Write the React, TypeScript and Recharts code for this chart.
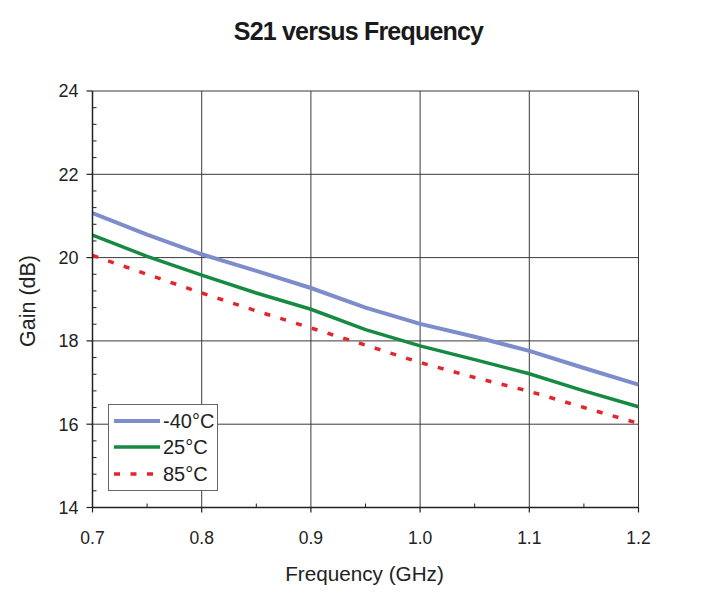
import React from 'react';
import { LineChart, Line, XAxis, YAxis, CartesianGrid, Legend } from 'recharts';

const FREQ = [0.7, 0.75, 0.8, 0.85, 0.9, 0.95, 1.0, 1.05, 1.1, 1.15, 1.2];
const GAIN_M40 = [21.07, 20.55, 20.08, 19.68, 19.27, 18.8, 18.41, 18.1, 17.76, 17.35, 16.95];
const GAIN_25 = [20.54, 20.03, 19.58, 19.15, 18.76, 18.27, 17.88, 17.55, 17.21, 16.8, 16.42];
const GAIN_85 = [20.05, 19.6, 19.15, 18.72, 18.31, 17.9, 17.48, 17.12, 16.79, 16.4, 16.02];

const X_MAJOR = [0.7, 0.8, 0.9, 1.0, 1.1, 1.2];
const X_TICKS = [0.7, 0.75, 0.8, 0.85, 0.9, 0.95, 1.0, 1.05, 1.1, 1.15, 1.2];
const X_LABELS = ['0.7', '0.8', '0.9', '1.0', '1.1', '1.2'];
const Y_MAJOR = [14, 16, 18, 20, 22, 24];
const Y_TICKS = [14, 14.4, 14.8, 15.2, 15.6, 16, 16.4, 16.8, 17.2, 17.6, 18, 18.4, 18.8, 19.2, 19.6, 20, 20.4, 20.8, 21.2, 21.6, 22, 22.4, 22.8, 23.2, 23.6, 24];

const SERIES = [
  { key: 'm40', name: '-40°C', color: '#7D8CCB', width: 4, dash: undefined as string | undefined },
  { key: 't25', name: '25°C', color: '#168A43', width: 3.5, dash: undefined as string | undefined },
  { key: 't85', name: '85°C', color: '#E3262D', width: 3.5, dash: '6 10.5' },
];

const data = FREQ.map((f, i) => ({ f, m40: GAIN_M40[i], t25: GAIN_25[i], t85: GAIN_85[i] }));

const AXIS = '#222';
const Y_TICK_SIZE = 6;
const Y_TICK_MARGIN = 8;
const X_TICK_SIZE = 5;
const X_TICK_MARGIN = 19;

const isMajor = (v: number, majors: number[]) => majors.some((m) => Math.abs(m - v) < 1e-6);

const YTick = (props: any) => {
  const { x, y, payload } = props;
  const v = payload.value as number;
  const edge = x + Y_TICK_SIZE + Y_TICK_MARGIN;
  if (isMajor(v, Y_MAJOR)) {
    return (
      <g>
        <line x1={edge - Y_TICK_SIZE} x2={edge} y1={y} y2={y} stroke={AXIS} strokeWidth={1.2} />
        <text x={x} y={y} dy="0.36em" textAnchor="end" fontSize={18} fill="#222" fontFamily="Liberation Sans, Arial, sans-serif">
          {String(v)}
        </text>
      </g>
    );
  }
  return <line x1={edge} x2={edge + 4} y1={y} y2={y} stroke={AXIS} strokeWidth={1} />;
};

const XTick = (props: any) => {
  const { x, y, payload } = props;
  const v = payload.value as number;
  const edge = y - X_TICK_SIZE - X_TICK_MARGIN;
  const mi = X_MAJOR.findIndex((m) => Math.abs(m - v) < 1e-6);
  if (mi >= 0) {
    return (
      <g>
        <line x1={x} x2={x} y1={edge} y2={edge + X_TICK_SIZE} stroke={AXIS} strokeWidth={1.2} />
        <text x={x} y={y} dy="0.71em" textAnchor="middle" fontSize={17.5} fill="#222" fontFamily="Liberation Sans, Arial, sans-serif">
          {X_LABELS[mi]}
        </text>
      </g>
    );
  }
  return <line x1={x} x2={x} y1={edge} y2={edge - 4} stroke={AXIS} strokeWidth={1} />;
};

const LegendBox = () => (
  <div
    style={{
      width: 110,
      height: 87,
      boxSizing: 'border-box',
      border: '1.5px solid #666',
      background: '#fff',
      paddingTop: 3,
    }}
  >
    {SERIES.map((s) => (
      <div key={s.key} style={{ display: 'flex', alignItems: 'center', height: 26.3, marginLeft: 5 }}>
        <svg width={46} height={10} style={{ display: 'block' }}>
          <line x1={0} x2={46} y1={5} y2={5} stroke={s.color} strokeWidth={s.width} strokeDasharray={s.dash} />
        </svg>
        <span
          style={{
            marginLeft: 3,
            fontSize: 20,
            color: '#222',
            fontFamily: 'Liberation Sans, Arial, sans-serif',
            lineHeight: '20px',
          }}
        >
          {s.name}
        </span>
      </div>
    ))}
  </div>
);

export default function App() {
  return (
    <div style={{ position: 'absolute', left: 0, top: 0, width: 710, height: 611, background: '#fff' }}>
      <div
        style={{
          position: 'absolute',
          left: 0,
          width: 717,
          top: 16,
          textAlign: 'center',
          fontFamily: '"Liberation Sans", Arial, sans-serif',
          fontWeight: 'bold',
          fontSize: 25,
          letterSpacing: -0.8,
          color: '#1a1a1a',
          lineHeight: '30px',
        }}
      >
        S21 versus Frequency
      </div>
      <div
        style={{
          position: 'absolute',
          left: 27.5,
          top: 301,
          transform: 'translate(-50%, -50%) rotate(-90deg)',
          whiteSpace: 'nowrap',
          fontFamily: 'Liberation Sans, Arial, sans-serif',
          fontSize: 21.5,
          color: '#222',
          lineHeight: '24px',
        }}
      >
        Gain (dB)
      </div>
      <div
        style={{
          position: 'absolute',
          left: 364.5,
          top: 574,
          transform: 'translate(-50%, -50%)',
          whiteSpace: 'nowrap',
          fontFamily: 'Liberation Sans, Arial, sans-serif',
          fontSize: 20.7,
          color: '#222',
          lineHeight: '24px',
        }}
      >
        Frequency (GHz)
      </div>
      <LineChart
        width={710}
        height={611}
        data={data}
        margin={{ top: 91, right: 71.5, bottom: 63.5, left: 32.5 }}
        style={{ position: 'absolute', left: 0, top: 0 }}
      >
        <CartesianGrid
          horizontalValues={Y_MAJOR}
          verticalValues={X_MAJOR}
          stroke="#3a3a3a"
          strokeWidth={1}
        />
        <XAxis
          dataKey="f"
          type="number"
          domain={[0.7, 1.2]}
          ticks={X_TICKS}
          interval={0}
          height={40}
          tickSize={X_TICK_SIZE}
          tickMargin={X_TICK_MARGIN}
          tickLine={false}
          axisLine={{ stroke: AXIS, strokeWidth: 1.5 }}
          tick={<XTick />}
          allowDataOverflow
        />
        <YAxis
          type="number"
          domain={[14, 24]}
          ticks={Y_TICKS}
          interval={0}
          width={60}
          tickSize={Y_TICK_SIZE}
          tickMargin={Y_TICK_MARGIN}
          tickLine={false}
          axisLine={{ stroke: AXIS, strokeWidth: 1.5 }}
          tick={<YTick />}
          allowDataOverflow
        />
        <Legend
          layout="horizontal"
          align="center"
          verticalAlign="middle"
          content={<LegendBox />}
          wrapperStyle={{ position: 'absolute', left: 108, top: 404, width: 110, height: 87 }}
        />
        {SERIES.map((s) => (
          <Line
            key={s.key}
            type="linear"
            dataKey={s.key}
            name={s.name}
            stroke={s.color}
            strokeWidth={s.width}
            strokeDasharray={s.dash}
            dot={false}
            activeDot={false}
            isAnimationActive={false}
          />
        ))}
      </LineChart>
    </div>
  );
}
